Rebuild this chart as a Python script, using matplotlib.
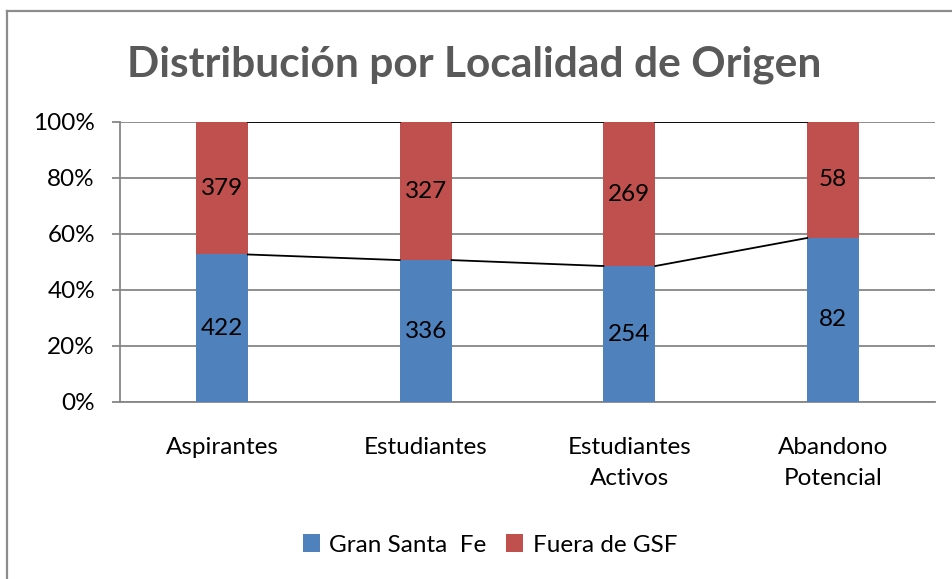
import matplotlib
matplotlib.use("Agg")
import matplotlib.pyplot as plt
from matplotlib.patches import Patch
from matplotlib.lines import Line2D
import numpy as np

categories = ["Aspirantes", "Estudiantes", "Estudiantes\nActivos", "Abandono\nPotencial"]
gran_santa_fe = [422, 336, 254, 82]
fuera_gsf = [379, 327, 269, 58]
series_names = ["Gran Santa  Fe", "Fuera de GSF"]
yticks = [0, 20, 40, 60, 80, 100]
title = "Distribución por Localidad de Origen"

BLUE = "#4F81BD"
RED = "#C0504D"
FONT = "Lato"
FS = 17.5

plt.rcParams["font.family"] = [FONT, "DejaVu Sans"]

fig = plt.figure(figsize=(9.52, 5.79), dpi=100)
W, H = 952, 579
ax = fig.add_axes([120 / W, 1 - 402 / H, (935 - 120) / W, (402 - 122) / H])

g = np.array(gran_santa_fe, dtype=float)
f = np.array(fuera_gsf, dtype=float)
tot = g + f
gp = g / tot * 100
fp = f / tot * 100
x = np.arange(len(categories))
bw = 0.255

ax.bar(x, gp, width=bw, color=BLUE, zorder=3)
ax.bar(x, fp, width=bw, bottom=gp, color=RED, zorder=3)

# series lines between bars
for i in range(len(x) - 1):
    ax.plot([x[i] + bw / 2, x[i + 1] - bw / 2], [gp[i], gp[i + 1]], color="black", lw=1.3, zorder=4)
    ax.plot([x[i] + bw / 2, x[i + 1] - bw / 2], [100, 100], color="black", lw=1.3, zorder=4)

# data labels
for i in range(len(x)):
    ax.text(x[i], gp[i] / 2, str(gran_santa_fe[i]), ha="center", va="center",
            fontsize=FS, color="black", zorder=5)
    ax.text(x[i], gp[i] + fp[i] / 2, str(fuera_gsf[i]), ha="center", va="center",
            fontsize=FS, color="black", zorder=5)

ax.set_xlim(-0.5, len(categories) - 0.5)
ax.set_ylim(0, 100)
ax.set_yticks(yticks)
ax.set_yticklabels([f"{v}%" for v in yticks], fontsize=FS)
ax.set_xticks(x)
ax.set_xticklabels(categories, fontsize=FS, linespacing=1.6)
ax.tick_params(axis="x", length=0, pad=25)
ax.tick_params(axis="y", length=6, width=1.3, color="#868686", pad=12)
ax.grid(axis="y", color="#868686", lw=1.3, zorder=0)
for s in ["top", "right"]:
    ax.spines[s].set_visible(False)
for s in ["left", "bottom"]:
    ax.spines[s].set_color("#868686")
    ax.spines[s].set_linewidth(1.3)

fig.text(474 / W, 1 - 77 / H, title, ha="center", va="baseline", fontsize=30.6,
         fontweight="bold", color="#595959")

handles = [Patch(facecolor=BLUE, edgecolor="none"), Patch(facecolor=RED, edgecolor="none")]
fig.legend(handles, series_names, loc="center", bbox_to_anchor=(490 / W, 1 - 545 / H), ncol=2,
           frameon=False, fontsize=FS, handlelength=0.7, handleheight=0.7,
           handletextpad=0.4, columnspacing=0.8)

# chart border
fig.add_artist(Line2D([7 / W, 7 / W], [0, 1 - 11 / H], color="#8c8c8c", lw=1.6))
fig.add_artist(Line2D([7 / W, 1], [1 - 11 / H, 1 - 11 / H], color="#8c8c8c", lw=1.6))

fig.savefig("out.png", dpi=100)
